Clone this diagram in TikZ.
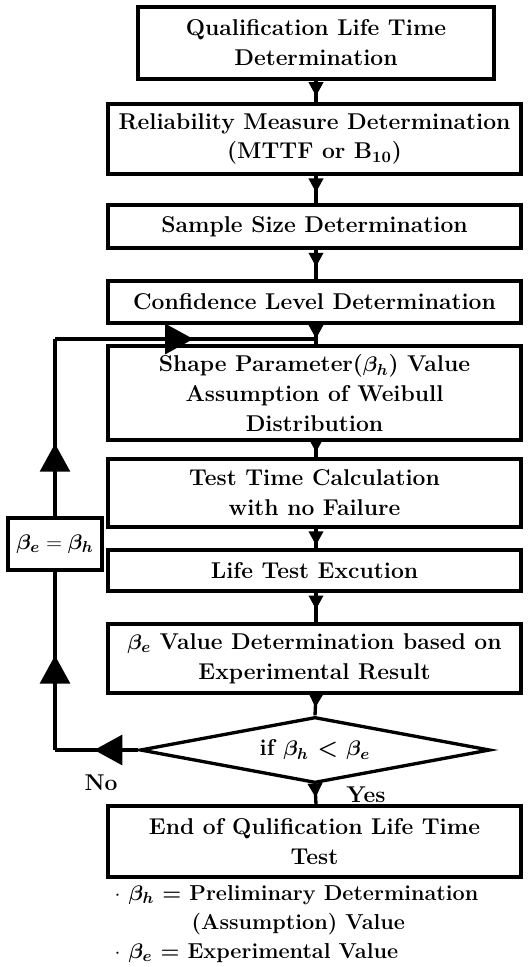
\documentclass[tikz,border=0pt]{standalone}
\usepackage{amsmath, amssymb, bm}
\usepackage{tikz}
\usetikzlibrary{arrows.meta, calc, positioning, shapes.geometric, decorations.markings}
\newcommand{\pxl}[1]{#1*0.02cm}
\newcommand{\bh}{\bm{\beta}_{\bm{h}}}
\newcommand{\be}{\bm{\beta}_{\bm{e}}}

\begin{document}
\begin{tikzpicture}[x=0.02cm, y=-0.02cm, line width=1.9pt,
  procbox/.style={draw, fill=white, minimum width=\pxl{413}, align=center, inner sep=1pt,
    font=\bfseries\fontsize{13}{17}\selectfont},
  decision/.style={draw, diamond, aspect=5.3, minimum width=\pxl{350}, minimum height=\pxl{66}, inner sep=0pt,
    font=\bfseries\fontsize{13}{17}\selectfont},
  midtip/.style={postaction={decorate}, decoration={markings,
    mark=at position #1 with {\arrow{Triangle[length=8pt, width=8pt]}}}},
  bigtip/.style={postaction={decorate}, decoration={markings,
    mark=at position #1 with {\arrow{Triangle[length=16pt, width=17pt]}}}},
  note/.style={anchor=base west, inner sep=0pt, font=\bfseries\fontsize{12.3}{17}\selectfont}]
  \useasboundingbox (0,0) rectangle (529,967);
  % main chain
  \node[procbox, minimum width=\pxl{356}, minimum height=\pxl{72}] (qual) at (316,43) {Qualification Life Time\\Determination};
  \node[procbox, minimum height=\pxl{70}] (relia) at (314.5,139) {Reliability Measure Determination\\(MTTF or B$_{\mathbf{10}}$)};
  \node[procbox, minimum height=\pxl{43}] (sample) at (314.5,226.5) {Sample Size Determination};
  \node[procbox, minimum height=\pxl{42}] (conf) at (314.5,302) {Confidence Level Determination};
  \node[procbox, minimum height=\pxl{94}] (shape) at (314.5,393) {Shape Parameter($\bh$) Value\\Assumption of Weibull\\Distribution};
  \node[procbox, minimum height=\pxl{68}] (ttime) at (314.5,493) {Test Time Calculation\\with no Failure};
  \node[procbox, minimum height=\pxl{41}] (exec) at (314.5,570.5) {Life Test Excution};
  \node[procbox, minimum height=\pxl{69}] (betae) at (314.5,658.5) {$\be$ Value Determination based on\\Experimental Result};
  \node[decision] (cmp) at (315,750) {if $\bh$ < $\be$};
  \node[procbox, minimum height=\pxl{71}] (fin) at (314.5,841.5) {End of Qulification Life Time\\Test};
  % feedback loop
  \node[procbox, minimum width=\pxl{94}, minimum height=\pxl{52}] (swap) at (55,544) {$\be = \bh$};
  \coordinate (nocorner) at (55,750);
  \coordinate (topcorner) at (55,339);
  \coordinate (join) at (316,339);
  \draw[midtip=0.72] (qual.south -| 316,0) -- (relia.north -| 316,0);
  \draw[midtip=0.61] (relia.south -| 316,0) -- (sample.north -| 316,0);
  \draw[midtip=0.58] (sample.south -| 316,0) -- (conf.north -| 316,0);
  \draw[midtip=0.99] (conf.south -| 316,0) -- (join);
  \draw (join) -- (shape.north -| 316,0);
  \draw[midtip=0.68] (shape.south -| 316,0) -- (ttime.north -| 316,0);
  \draw[midtip=0.85] (ttime.south -| 316,0) -- (exec.north -| 316,0);
  \draw[midtip=0.57] (exec.south -| 316,0) -- (betae.north -| 316,0);
  \draw[midtip=0.62] (betae.south -| 316,0) -- (cmp.north);
  \draw[midtip=0.65] (cmp.south) -- (fin.north -| 316,0);
  \draw[bigtip=0.53] (cmp.west) -- (nocorner);
  \draw[bigtip=0.53] (nocorner) -- (swap.south);
  \draw[bigtip=0.41] (swap.north) -- (topcorner);
  \draw[bigtip=0.53] (topcorner) -- (join);
  \node[font=\bfseries\fontsize{13}{17}\selectfont] (no) at (101,783) {No};
  \node[font=\bfseries\fontsize{13}{17}\selectfont] (yes) at (366,795) {Yes};
  % legend
  \node[note] (leg1) at (113,900) {$\cdot$ $\bh$ = Preliminary Determination};
  \node[note] (leg2) at (190,929) {(Assumption) Value};
  \node[note] (leg3) at (113,958) {$\cdot$ $\be$ = Experimental Value};
\end{tikzpicture}
\end{document}
